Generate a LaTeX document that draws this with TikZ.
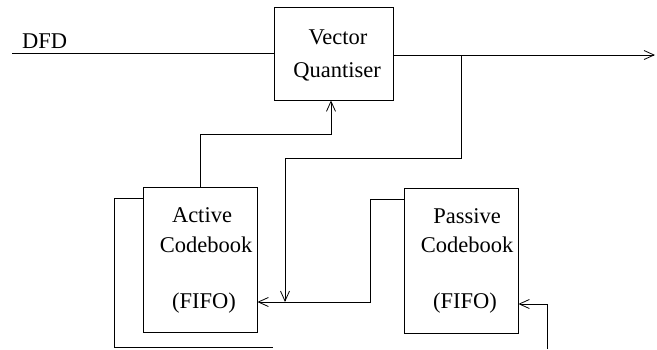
\documentclass[tikz,border=0pt]{standalone}
\usepackage{fontspec}
\setmainfont{Liberation Serif}
\usetikzlibrary{arrows.meta}
\begin{document}
\begin{tikzpicture}[x=1pt,y=-1pt,
  wire/.style={line width=0.8pt, line join=miter},
  tip/.style={-{Straight Barb[length=10pt,width=9pt,line width=0.8pt]}},
  blk/.style={draw, line width=0.8pt, inner sep=0pt},
  lbl/.style={anchor=base, inner sep=0pt, font=\fontsize{22.5}{27}\selectfont}]
\useasboundingbox (0,0) rectangle (657,349);
% blocks
\node[blk, minimum width=119pt, minimum height=93pt] (vq) at (333.5,53.5) {};
\node[blk, minimum width=114pt, minimum height=145pt] (ac) at (200,259.5) {};
\node[blk, minimum width=114pt, minimum height=145pt] (pc) at (461,260.5) {};
% texts
\node[lbl] (t1) at (338,44) {Vector};
\node[lbl] (t2) at (337,77) {Quantiser};
\node[lbl] (t3) at (202,222) {Active};
\node[lbl] (t4) at (206,252) {Codebook};
\node[lbl] (t5) at (204,308) {(FIFO)};
\node[lbl] (t6) at (467,223) {Passive};
\node[lbl] (t7) at (467,252) {Codebook};
\node[lbl] (t8) at (465,308) {(FIFO)};
\node[lbl, anchor=base west] (dfd) at (22,48) {DFD};
% coordinates
\coordinate (in) at (12,53);
\coordinate (out) at (655,55);
\coordinate (br) at (461,55);
\coordinate (jn) at (285,302);
\coordinate (fb) at (331,134);
\coordinate (lp) at (114,347);
\coordinate (lpend) at (273,347);
\coordinate (pl) at (370,199);
\coordinate (rin) at (547,349);
% connectors
\draw[wire] (in) -- (in -| vq.west);
\draw[wire, tip] (vq.east |- out) -- (out);
\draw[wire, tip] (br) -- (br |- 0,158) -- (jn |- 0,158) -- (jn);
\draw[wire, tip] (ac.north) -- (ac.north |- fb) -- (fb) -- (fb |- vq.south);
\draw[wire] (ac.west |- 0,198) -- (lp |- 0,198) -- (lp) -- (lpend);
\draw[wire, tip] (pc.west |- pl) -- (pl) -- (pl |- jn) -- (ac.east |- jn);
\draw[wire, tip] (rin) -- (rin |- 0,304) -- (pc.east |- 0,304);
\end{tikzpicture}
\end{document}
